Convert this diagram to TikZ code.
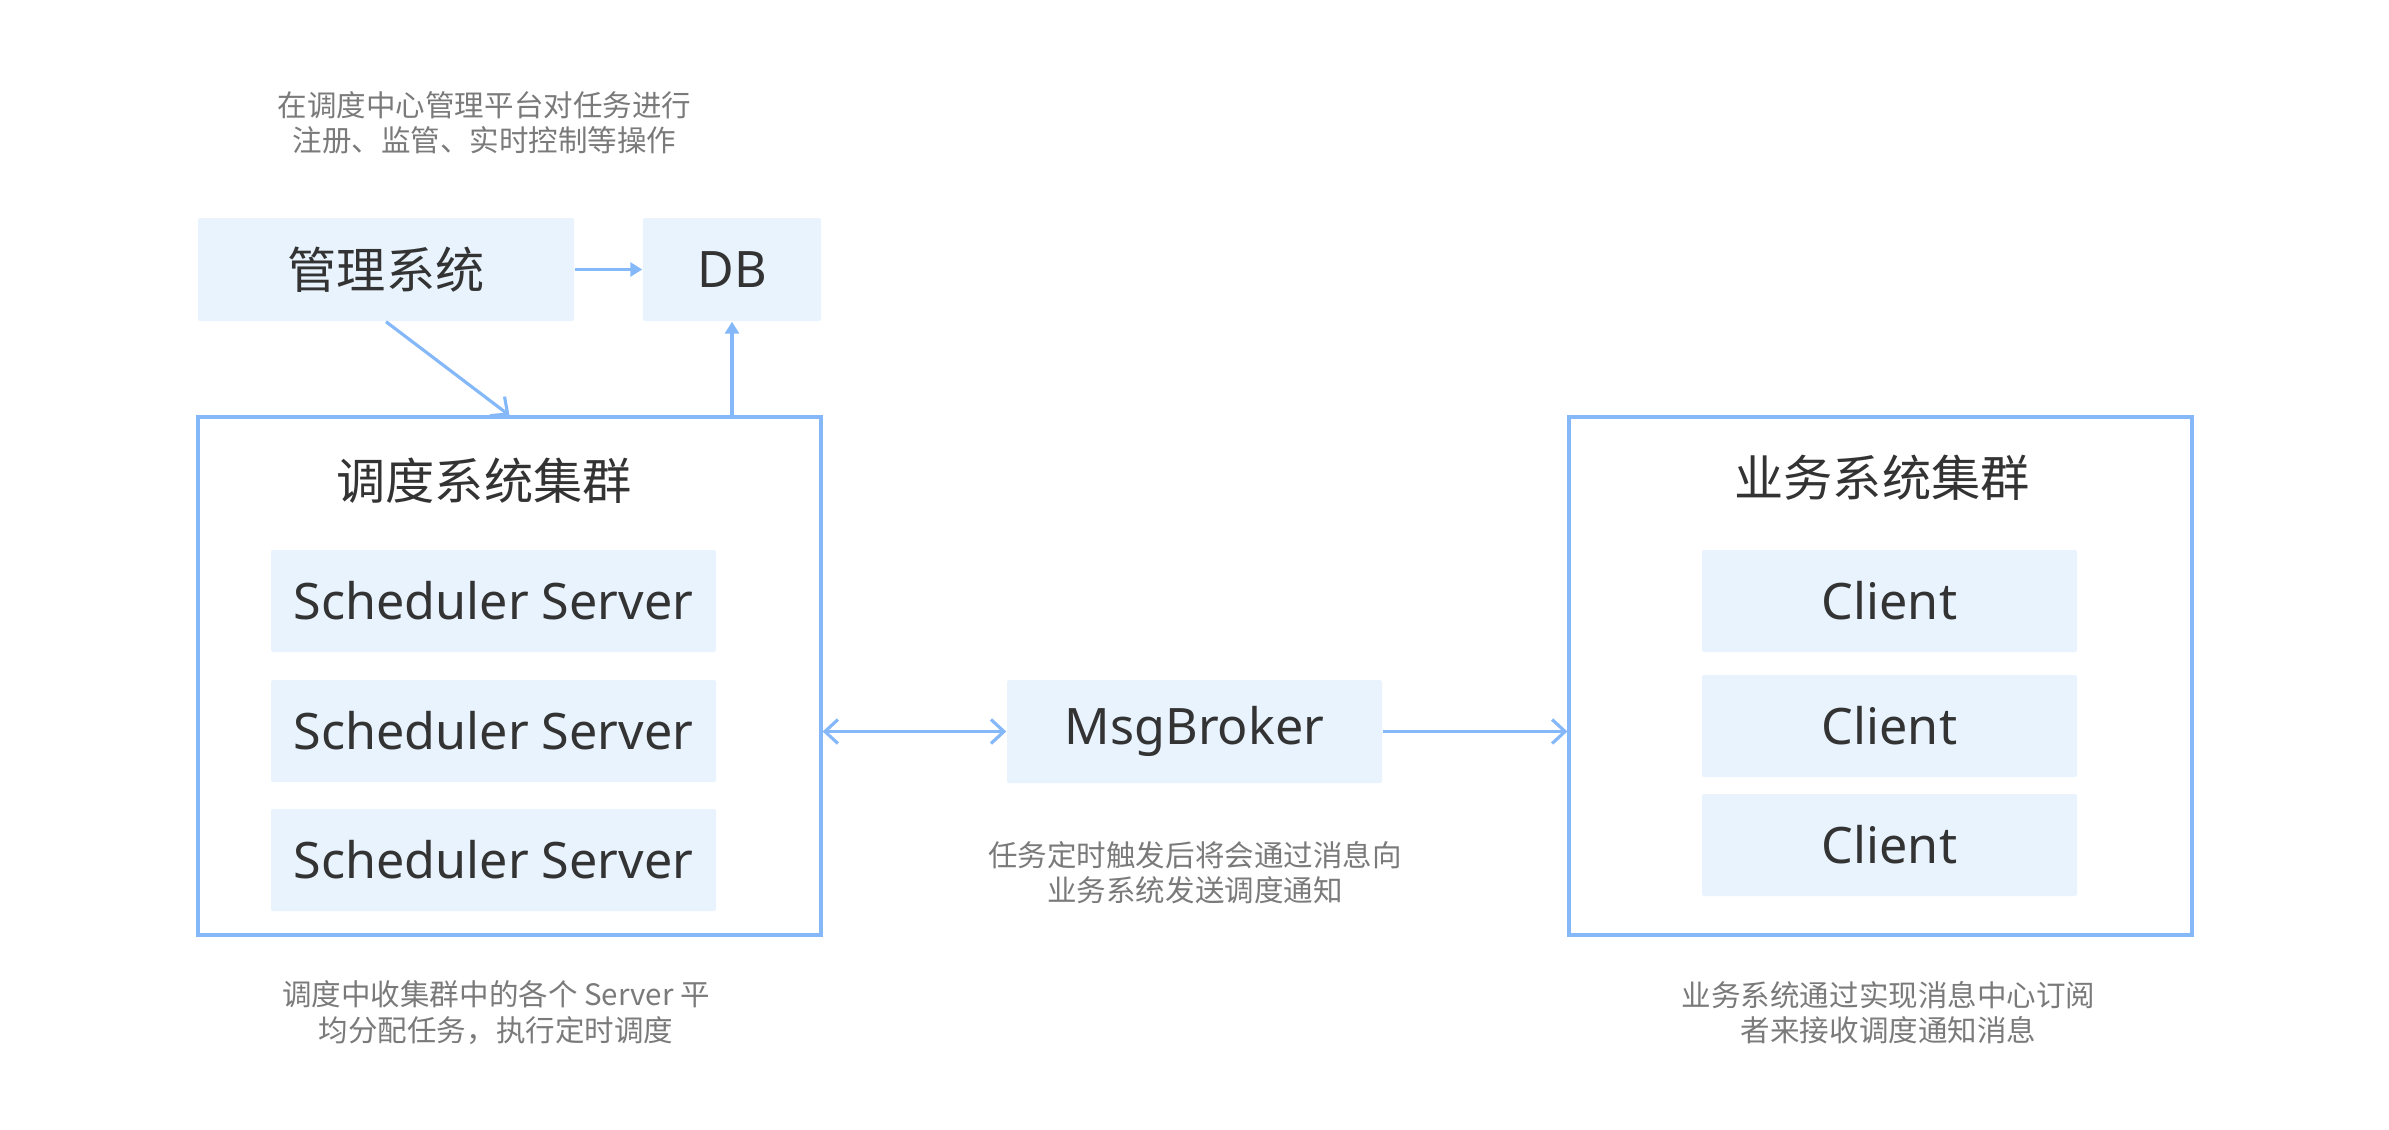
\documentclass[tikz,border=0pt]{standalone}
\usepackage{fontspec}
\setmainfont{Noto Sans}
\newfontfamily\cjk{Noto Sans CJK SC}
\usetikzlibrary{arrows.meta,positioning}
\definecolor{linec}{HTML}{85B8F8}
\definecolor{boxbg}{HTML}{E8F3FE}
\definecolor{txtc}{HTML}{333333}
\definecolor{notec}{HTML}{7A7A7A}
\tikzset{
  ar/.style={-{Straight Barb[length=1.3mm,width=2.4mm]},line width=0.9pt,linec},
  arb/.style={{Straight Barb[length=1.3mm,width=2.4mm]}-{Straight Barb[length=1.3mm,width=2.4mm]},line width=0.9pt,linec},
  arf/.style={-{Triangle[length=1.2mm,width=1.4mm]},line width=0.9pt,linec},
  box/.style={fill=boxbg,rounded corners=0.6pt,inner sep=0pt,text=txtc,font=\fontsize{14.3}{16}\selectfont},
  cbox/.style={box,font=\fontsize{14}{16}\selectfont\cjk},
  grp/.style={draw=linec,line width=0.9pt,inner sep=0pt,minimum width=62.3mm,minimum height=51.8mm},
  ttl/.style={text=txtc,font=\fontsize{14}{16}\selectfont\cjk},
  note/.style={text=notec,align=center,font=\fontsize{8.4}{10}\selectfont\cjk}
}

\begin{document}
\begin{tikzpicture}[x=1mm,y=-1mm]
\useasboundingbox (0,0) rectangle (238.9,112.9);

\node[note] (topnote) at (48.45,12.25) {在调度中心管理平台对任务进行\\注册、监管、实时控制等操作};
\node[cbox,minimum width=37.6mm,minimum height=10.3mm] (mgmt) at (38.6,26.95) {管理系统};
\node[box,minimum width=17.8mm,minimum height=10.3mm] (db) at (73.2,26.95) {DB};

\node[grp] (sched) at (50.95,67.6) {};
\node[ttl] (schedttl) at (48.4,48.1) {调度系统集群};
\foreach \i/\y in {1/60.1,2/73.1,3/86.0}
  \node[box,minimum width=44.5mm,minimum height=10.2mm] (srv\i) at (49.35,\y) {Scheduler Server};
\node[note] (schednote) at (49.6,101.25) {调度中收集群中的各个 Server 平\\均分配任务，执行定时调度};

\node[box,minimum width=37.5mm,minimum height=10.3mm] (broker) at (119.45,73.15) {MsgBroker};
\node[note] (brokernote) at (119.5,87.25) {任务定时触发后将会通过消息向\\业务系统发送调度通知};

\node[grp] (biz) at (188.05,67.6) {};
\node[ttl] (bizttl) at (188.2,47.8) {业务系统集群};
\foreach \i/\y in {1/60.1,2/72.6,3/84.5}
  \node[box,minimum width=37.5mm,minimum height=10.2mm] (cli\i) at (188.95,\y) {Client};
\node[note] (biznote) at (188.85,101.25) {业务系统通过实现消息中心订阅\\者来接收调度通知消息};

\draw[arf] (mgmt) -- (db);
\draw[ar] (mgmt.south) -- (sched.north);
\draw[arf] (db.south |- sched.north) -- (db.south);
\draw[arb] (sched.east |- broker.west) -- (broker.west);
\draw[ar] (broker.east) -- (broker.east -| biz.west);
\end{tikzpicture}
\end{document}
